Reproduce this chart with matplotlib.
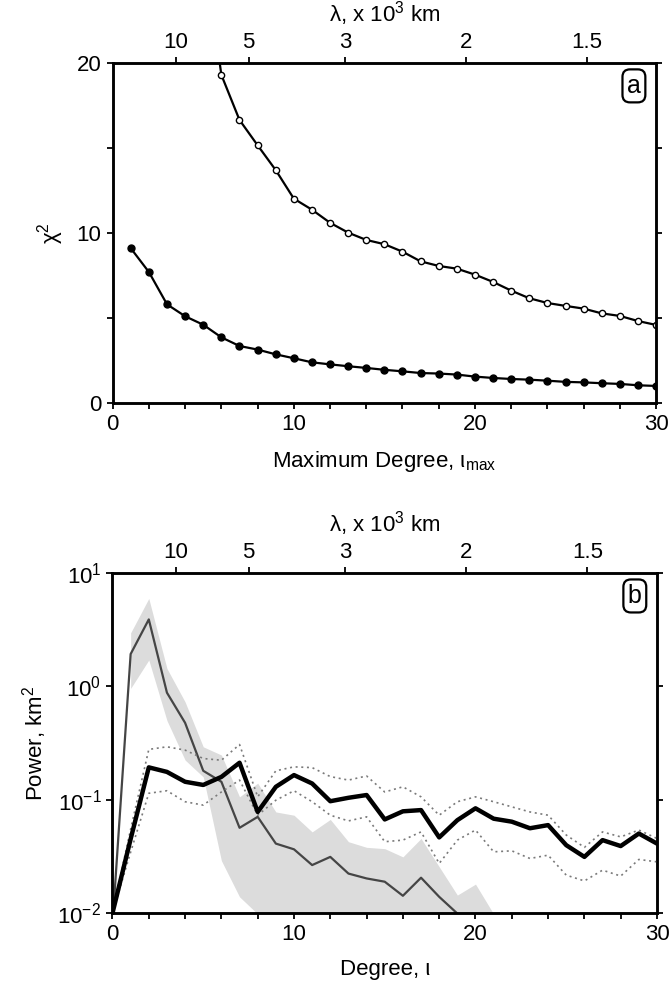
import numpy as np
import matplotlib.pyplot as plt

plt.rcParams['font.family'] = ['Liberation Sans', 'DejaVu Sans']
plt.rcParams['mathtext.fontset'] = 'custom'
plt.rcParams['mathtext.rm'] = 'Liberation Sans'
plt.rcParams['mathtext.it'] = 'Liberation Sans:italic'
plt.rcParams['mathtext.sf'] = 'Liberation Sans'

# --- panel a: chi^2 vs maximum degree ---
deg_a_filled = np.arange(1, 31)
chi_filled = [9.1, 7.7, 5.8, 5.1, 4.6, 3.86, 3.35, 3.14, 2.86, 2.63,
              2.39, 2.27, 2.16, 2.06, 1.95, 1.86, 1.76, 1.73, 1.67, 1.55,
              1.47, 1.41, 1.37, 1.31, 1.24, 1.21, 1.16, 1.12, 1.04, 1.0]
deg_a_open = np.arange(5, 31)
chi_open = [27.0, 19.3, 16.65, 15.16, 13.7, 12.02, 11.37, 10.6, 10.02, 9.59,
            9.34, 8.9, 8.33, 8.06, 7.9, 7.55, 7.12, 6.61, 6.16, 5.88,
            5.71, 5.55, 5.27, 5.12, 4.82, 4.59]

# --- panel b: power spectra ---
deg_b = np.arange(0, 31)
power_main = [0.01, 0.045, 0.193, 0.176, 0.144, 0.135, 0.159, 0.212, 0.078, 0.13,
              0.165, 0.139, 0.097, 0.104, 0.11, 0.067, 0.079, 0.081, 0.0465, 0.066,
              0.084, 0.068, 0.064, 0.056, 0.0597, 0.0397, 0.0313, 0.044, 0.039, 0.0503,
              0.041]
power_main_hi = [0.01, 0.055, 0.278, 0.293, 0.274, 0.231, 0.223, 0.307, 0.106, 0.18,
                 0.195, 0.192, 0.16, 0.149, 0.162, 0.117, 0.13, 0.106, 0.073, 0.096,
                 0.106, 0.096, 0.0865, 0.078, 0.073, 0.0488, 0.038, 0.052, 0.047, 0.054,
                 0.0455]
power_main_lo = [0.01, 0.0345, 0.114, 0.12, 0.096, 0.0896, 0.117, 0.149, 0.073, 0.099,
                 0.12, 0.096, 0.073, 0.065, 0.0706, 0.0426, 0.044, 0.052, 0.0274, 0.044,
                 0.054, 0.0347, 0.0354, 0.0303, 0.0324, 0.0216, 0.0192, 0.0239, 0.0212, 0.0297,
                 0.0283]

deg_thin = np.arange(0, 21)
power_thin = [0.008, 1.93, 3.9, 0.88, 0.477, 0.18, 0.144, 0.0565, 0.0706, 0.041,
              0.0365, 0.0265, 0.0313, 0.0223, 0.0202, 0.0189, 0.0142, 0.0205, 0.0139, 0.0099,
              0.007]

deg_band = np.arange(1, 23)
band_hi = [2.97, 5.97, 1.44, 0.73, 0.293, 0.248, 0.106, 0.14, 0.078, 0.073,
           0.052, 0.067, 0.0426, 0.038, 0.037, 0.0313, 0.0455, 0.0256, 0.0144, 0.018,
           0.0098, 0.007]
band_lo = [0.96, 1.71, 0.50, 0.224, 0.159, 0.029, 0.0139, 0.0098, 0.007, 0.007,
           0.007, 0.007, 0.007, 0.007, 0.007, 0.007, 0.007, 0.007, 0.007, 0.007,
           0.007, 0.007]

lam_ticks = [10, 5, 3, 2, 1.5]
lam_labels = ['10', '5', '3', '2', '1.5']


def lam_to_deg(lam):
    return 40.0 / np.asarray(lam) - 0.5


fs = 16
frame_lw = 1.8


def style_frame(ax):
    for s in ax.spines.values():
        s.set_linewidth(frame_lw)
    ax.tick_params(which='both', direction='out', length=4.5, width=1.3,
                   labelsize=fs, right=True, top=False)


def add_top_axis(ax):
    axt = ax.twiny()
    axt.set_xlim(ax.get_xlim())
    axt.set_xticks(lam_to_deg(lam_ticks))
    axt.set_xticklabels(lam_labels)
    axt.tick_params(direction='out', length=4.5, width=1.3, labelsize=fs, pad=3)
    for s in axt.spines.values():
        s.set_linewidth(frame_lw)
    axt.set_xlabel(r'λ, x 10$^3$ km', fontsize=fs, labelpad=7)
    return axt


def panel_tag(ax, letter):
    ax.text(0.972, 0.968, letter, transform=ax.transAxes, ha='right', va='top',
            fontsize=18, zorder=10,
            bbox=dict(boxstyle='round,pad=0.18,rounding_size=0.3', fc='white',
                      ec='black', lw=1.6))


fig = plt.figure(figsize=(6.7, 9.92), dpi=100)

# panel a
ax1 = fig.add_axes([0.1682, 0.5938, 0.811, 0.3427])
ax1.plot(deg_a_filled, chi_filled, color='black', lw=1.6, marker='o', ms=5,
         mfc='black', mec='black')
ax1.plot(deg_a_open, chi_open, color='black', lw=1.6, marker='o', ms=4.5,
         mfc='white', mec='black', mew=1.0)
ax1.set_xlim(0, 30)
ax1.set_ylim(0, 20)
ax1.set_xticks([0, 10, 20, 30])
ax1.set_xticks(np.arange(0, 31, 2), minor=True)
ax1.set_yticks([0, 10, 20])
ax1.set_yticks([5, 15], minor=True)
style_frame(ax1)
ax1.set_xlabel(r'Maximum Degree, ι$_{\mathrm{max}}$', fontsize=fs, labelpad=10)
ax1.set_ylabel(r'χ$^2$', fontsize=fs, labelpad=8)
add_top_axis(ax1)
panel_tag(ax1, 'a')

# panel b
ax2 = fig.add_axes([0.1679, 0.0796, 0.8127, 0.3427])
ax2.fill_between(deg_band, band_lo, band_hi, color='#dcdcdc', lw=0, zorder=1)
ax2.plot(deg_thin, power_thin, color='#454545', lw=1.6, zorder=2)
ax2.plot(deg_b, power_main_hi, color='#7a7a7a', lw=1.2, ls=(0, (1.2, 2.2)), zorder=3)
ax2.plot(deg_b, power_main_lo, color='#7a7a7a', lw=1.2, ls=(0, (1.2, 2.2)), zorder=3)
ax2.plot(deg_b, power_main, color='black', lw=3.2, zorder=4)
ax2.set_yscale('log')
ax2.set_xlim(0, 30)
ax2.set_ylim(1e-2, 1e1)
ax2.set_xticks([0, 10, 20, 30])
ax2.set_xticks(np.arange(0, 31, 2), minor=True)
ax2.set_yticks([1e-2, 1e-1, 1e0, 1e1])
ax2.yaxis.set_minor_locator(plt.NullLocator())
style_frame(ax2)
ax2.set_xlabel(r'Degree, ι', fontsize=fs, labelpad=10)
ax2.set_ylabel(r'Power, km$^2$', fontsize=fs, labelpad=6)
add_top_axis(ax2)
panel_tag(ax2, 'b')

fig.savefig('out.png', dpi=100)
